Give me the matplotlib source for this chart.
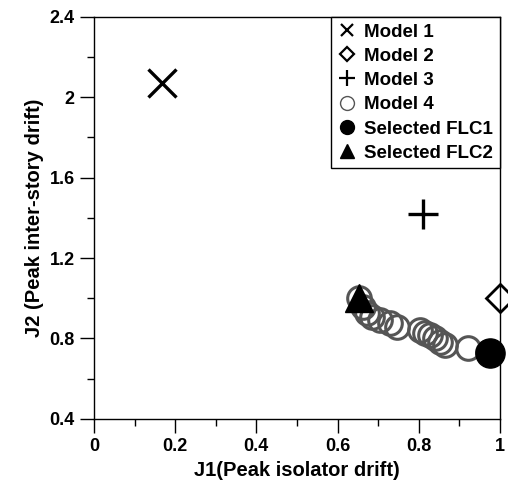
import matplotlib
matplotlib.use("Agg")
import matplotlib.pyplot as plt
from matplotlib.ticker import MultipleLocator

plt.rcParams['font.family'] = ['Liberation Sans', 'DejaVu Sans']
plt.rcParams['font.weight'] = 'bold'

# ── Data ──────────────────────────────────────────────────────────────────────
m1_j1, m1_j2 = [0.167], [2.07]
m2_j1, m2_j2 = [1.0], [1.0]
m3_j1, m3_j2 = [0.810], [1.42]
m4_j1 = [0.653, 0.663, 0.672, 0.684, 0.704, 0.729, 0.746, 0.803, 0.815,
         0.828, 0.840, 0.852, 0.864, 0.921, 0.970]
m4_j2 = [1.000, 0.957, 0.927, 0.907, 0.893, 0.878, 0.858, 0.843, 0.828,
         0.818, 0.803, 0.783, 0.768, 0.753, 0.733]
flc1_j1, flc1_j2 = [0.976], [0.728]
flc2_j1, flc2_j2 = [0.653], [1.0]

fig = plt.figure(figsize=(5.08, 4.82), dpi=100)
ax = fig.add_axes([0.185, 0.131, 0.799, 0.834])

ax.plot(m1_j1, m1_j2, 'x', color='black', ms=20, mew=2.4, label='Model 1', clip_on=False)
ax.plot(m2_j1, m2_j2, 'D', mfc='white', mec='black', ms=14, mew=2, label='Model 2', clip_on=False)
ax.plot(m3_j1, m3_j2, '+', color='black', ms=21, mew=2.4, label='Model 3', clip_on=False)
ax.plot(m4_j1, m4_j2, 'o', mfc='none', mec='#555555', ms=17, mew=2.2, label='Model 4', clip_on=False)
ax.plot(flc1_j1, flc1_j2, 'o', color='black', ms=21, label='Selected FLC1', clip_on=False)
ax.plot(flc2_j1, flc2_j2, '^', color='black', ms=20, label='Selected FLC2', clip_on=False)

ax.set_xlim(0, 1)
ax.set_ylim(0.4, 2.4)
ax.xaxis.set_minor_locator(MultipleLocator(0.1))
ax.yaxis.set_minor_locator(MultipleLocator(0.2))
ax.set_xticks([0, 0.2, 0.4, 0.6, 0.8, 1.0])
ax.set_xticklabels(['0', '0.2', '0.4', '0.6', '0.8', '1'])
ax.set_yticks([0.4, 0.8, 1.2, 1.6, 2.0, 2.4])
ax.set_yticklabels(['0.4', '0.8', '1.2', '1.6', '2', '2.4'])
ax.tick_params(which='major', direction='out', length=10, width=1, labelsize=13, pad=4)
ax.tick_params(which='minor', direction='out', length=5, width=1)
for s in ax.spines.values():
    s.set_linewidth(1)

ax.set_xlabel('J1(Peak isolator drift)', fontsize=14.5, fontweight='bold', labelpad=4)
ax.set_ylabel('J2 (Peak inter-story drift)', fontsize=14.5, fontweight='bold', labelpad=4)

handles = [
    plt.Line2D([], [], ls='none', marker='x', color='black', ms=9, mew=1.6),
    plt.Line2D([], [], ls='none', marker='D', mfc='white', mec='black', ms=7, mew=1.6),
    plt.Line2D([], [], ls='none', marker='+', color='black', ms=12, mew=1.6),
    plt.Line2D([], [], ls='none', marker='o', mfc='white', mec='#555555', ms=10, mew=1),
    plt.Line2D([], [], ls='none', marker='o', color='black', ms=10),
    plt.Line2D([], [], ls='none', marker='^', color='black', ms=10),
]
labels = ['Model 1', 'Model 2', 'Model 3', 'Model 4', 'Selected FLC1', 'Selected FLC2']
leg = ax.legend(handles, labels, loc='upper right', borderaxespad=0, fancybox=False,
                framealpha=1, edgecolor='black', handlelength=1,
                handletextpad=0.45, labelspacing=0.38, borderpad=0.35,
                prop={'weight': 'bold', 'size': 13.5})
leg.get_frame().set_linewidth(1)

fig.savefig('out.png', dpi=100)
